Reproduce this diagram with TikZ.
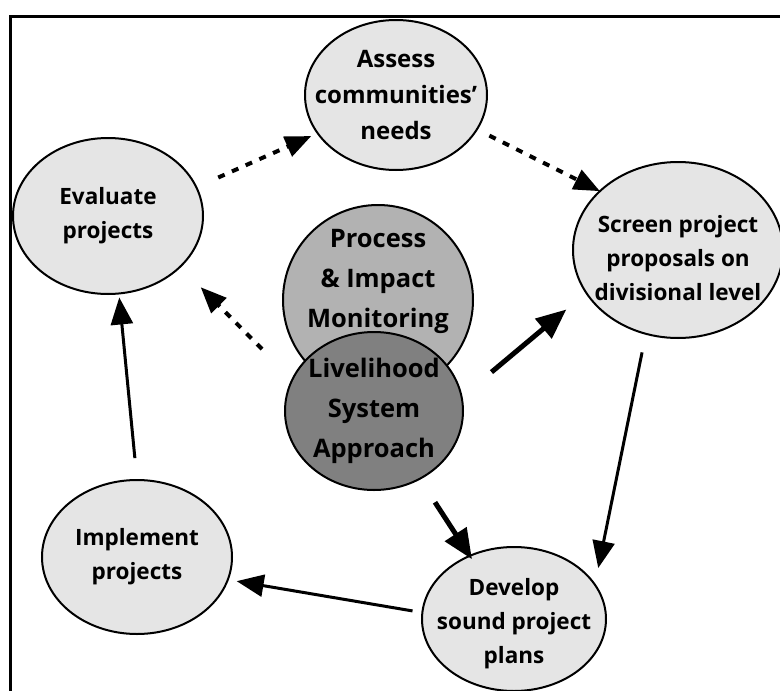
\documentclass[tikz,border=0pt]{standalone}
\usepackage{fontspec}
\setmainfont{Open Sans}
\usetikzlibrary{arrows.meta,shapes.geometric}
\tikzset{
  bub/.style  ={ellipse,draw,line width=2pt,fill=gray!20,inner sep=0pt,outer sep=0pt},
  hub/.style  ={bub,fill=gray!60},
  core/.style ={bub,fill=gray},
  txt/.style  ={align=center,font=\fontsize{22.5}{34}\selectfont\bfseries},
  big/.style  ={align=center,font=\fontsize{25.5}{40}\selectfont\bfseries},
  flow/.style ={-{Triangle[length=27pt,width=22pt]},line width=3pt},
  push/.style ={-{Triangle[length=30pt,width=25pt]},line width=5pt},
  loose/.style={-{Triangle[length=26pt,width=21pt]},line width=4pt,dash pattern=on 7pt off 8pt},
}

\begin{document}
\begin{tikzpicture}[x=1pt,y=-1pt]
  \useasboundingbox (0,0) rectangle (780,691);
  \draw[line width=3pt] (10,16) rectangle (830,740);

  % the cycle
  \node[bub,minimum width=182pt,minimum height=150pt,
        label={[txt,font=\fontsize{24}{36}\selectfont\bfseries]center:Assess\\communities'\\needs}] (assess) at (396,95) {};
  \node[bub,minimum width=210pt,minimum height=176pt,
        label={[txt,yshift=-8pt]center:Screen project\\ proposals on\\divisional level}] (screen) at (678,250) {};
  \node[bub,minimum width=184pt,minimum height=144pt,
        label={[txt,yshift=-5pt]center:Develop\\sound project\\plans}] (dev) at (514,619) {};
  \node[bub,minimum width=190pt,minimum height=154pt,
        label={[txt]center:Implement\\projects}] (impl) at (137,557) {};
  \node[bub,minimum width=190pt,minimum height=156pt,
        label={[txt]center:Evaluate\\projects}] (eval) at (108,216) {};

  % centre
  \node[hub,minimum width=190pt,minimum height=190pt,
        label={[big,yshift=19pt]center:Process\\\& Impact\\Monitoring}] (mon) at (378,300) {};
  \node[core,minimum width=178pt,minimum height=158pt,
        label={[big]center:Livelihood\\System\\Approach}] (live) at (374,411) {};

  \draw[loose,shorten <=24pt,shorten >=7pt] (eval.18.6) -- (assess.206.9);
  \draw[loose,shorten <=14pt] (assess.337.7) -- (screen.143.8);
  \draw[flow,shorten <=19pt,shorten >=17pt] (screen.249.8) -- (dev.23.3);
  \draw[flow,shorten <=10pt,shorten >=9pt] (dev.176.1) -- (impl.346.7);
  \draw[flow,shorten <=22pt,shorten >=4pt] (impl.90.8) -- (eval.278.6);

  \draw[loose,shorten <=43pt,shorten >=29pt] (live.159.8) -- (eval.325.4);
  \draw[push,shorten <=39pt,shorten >=26pt] (live.9) -- (screen.205.5);
  \draw[push,shorten <=28pt,shorten >=-4pt] (live.304.5) -- (dev.125.9);
\end{tikzpicture}
\end{document}
